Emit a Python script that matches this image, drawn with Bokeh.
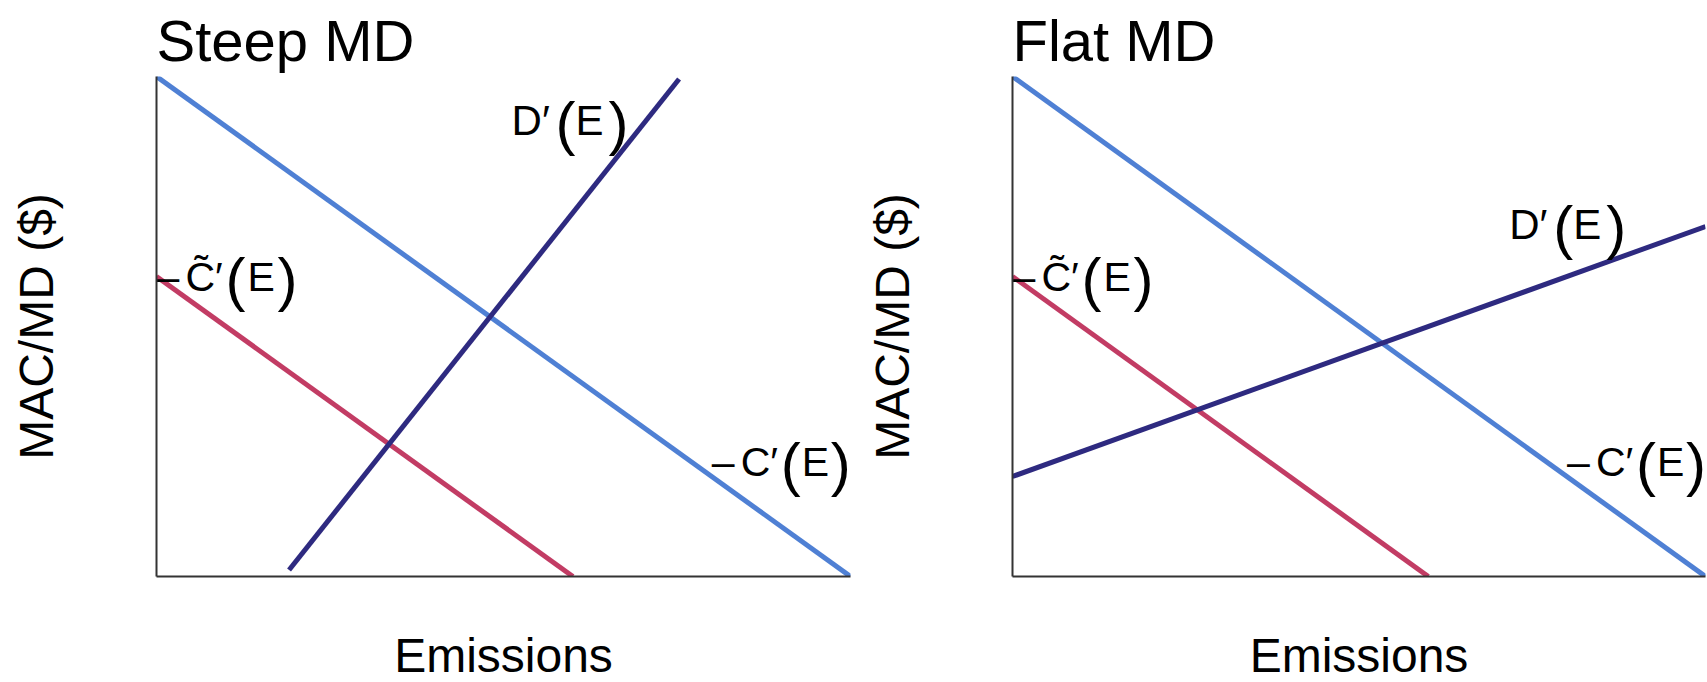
from bokeh.plotting import figure
from bokeh.layouts import row
from bokeh.models import Range1d, FixedTicker
from bokeh.core.properties import value
from bokeh.embed import file_html
from bokeh.resources import INLINE

FONT = "Liberation Sans"

# ---- text ----
panel_titles = ["Steep MD", "Flat MD"]
x_label = "Emissions"
y_label = "MAC/MD ($)"

# ---- data (Emissions 0-100, $ 0-100) ----
# C'(E): marginal abatement cost
c_x = [0, 100]
c_y = [100, 0]
# C~'(E): lower marginal abatement cost
ct_x = [0, 60]
ct_y = [60, 0]
# D'(E): marginal damage, steep case
d_steep_x = [19.1, 75.3]
d_steep_y = [1.3, 99.5]
# D'(E): marginal damage, flat case
d_flat_x = [0, 100]
d_flat_y = [20, 70]

# curve label anchor points (data coords)
ct_label_xy = [0, 60]
c_label_xy = [80, 23]
d_steep_label_xy = [51.6, 91.2]
d_flat_label_xy = [72.1, 70.5]

BLUE = "#4f80d4"
RED = "#c23c64"
PURPLE = "#2e2a80"

# label pieces: (text, x_offset px, font size, y_offset px)
C_TILDE_PIECES = [("\u2013", 0, "41px", 0), ("C\u0303\u2032", 29, "41px", 0),
                  ("(", 69, "60px", 3), ("E", 91, "41px", 0), (")", 121, "60px", 3)]
C_PIECES = [("\u2013", 0, "41px", 0), ("C\u2032", 29, "41px", 0),
            ("(", 69, "60px", 3), ("E", 90, "41px", 0), (")", 119, "60px", 3)]
D_PIECES = [("D\u2032", -3, "42px", 0), ("(", 41, "60px", 3),
            ("E", 61, "42px", 0), (")", 94, "60px", 3)]


def add_label(p, xy, pieces):
    for txt, dx, size, dy in pieces:
        p.text(x=[xy[0]], y=[xy[1]], text=[txt], x_offset=dx, y_offset=dy,
               text_font=value(FONT), text_font_size=size,
               text_baseline="middle", text_align="left", text_color="black")


def make_panel(title, d_x, d_y, d_label_xy, border_left, frame_w, border_right):
    p = figure(frame_width=frame_w, frame_height=500,
               min_border_left=border_left, min_border_right=border_right,
               min_border_top=76, min_border_bottom=106,
               x_range=Range1d(0, 100), y_range=Range1d(0, 100),
               output_backend="svg", toolbar_location=None,
               background_fill_color="white", border_fill_color="white")
    p.outline_line_color = None
    p.xgrid.visible = False
    p.ygrid.visible = False

    p.title.text = title
    p.title.text_font = FONT
    p.title.text_font_size = "58px"
    p.title.text_font_style = "normal"
    p.title.text_color = "black"
    p.title.align = "left"
    p.title.vertical_align = "top"
    p.title.offset = 0
    p.title.standoff = 4

    for ax, lab, standoff in ((p.xaxis[0], x_label, 52), (p.yaxis[0], y_label, 94)):
        ax.ticker = FixedTicker(ticks=[])
        ax.major_tick_in = 0
        ax.major_tick_out = 0
        ax.minor_tick_in = 0
        ax.minor_tick_out = 0
        ax.major_label_standoff = 0
        ax.major_label_text_font_size = "0px"
        ax.axis_line_color = "#333333"
        ax.axis_line_width = 2
        ax.axis_label = lab
        ax.axis_label_text_font = FONT
        ax.axis_label_text_font_size = "48px"
        ax.axis_label_text_font_style = "normal"
        ax.axis_label_text_color = "black"
        ax.axis_label_standoff = standoff

    p.line(c_x, c_y, line_width=5, line_color=BLUE)
    p.line(ct_x, ct_y, line_width=5, line_color=RED)
    p.line(d_x, d_y, line_width=5, line_color=PURPLE)

    add_label(p, ct_label_xy, C_TILDE_PIECES)
    add_label(p, c_label_xy, C_PIECES)
    add_label(p, d_label_xy, D_PIECES)
    return p


p1 = make_panel(panel_titles[0], d_steep_x, d_steep_y, d_steep_label_xy, 156, 694, 12)
p2 = make_panel(panel_titles[1], d_flat_x, d_flat_y, d_flat_label_xy, 149, 693, 3)

layout = row(p1, p2)
open("out.html", "w").write(file_html(layout, INLINE))
